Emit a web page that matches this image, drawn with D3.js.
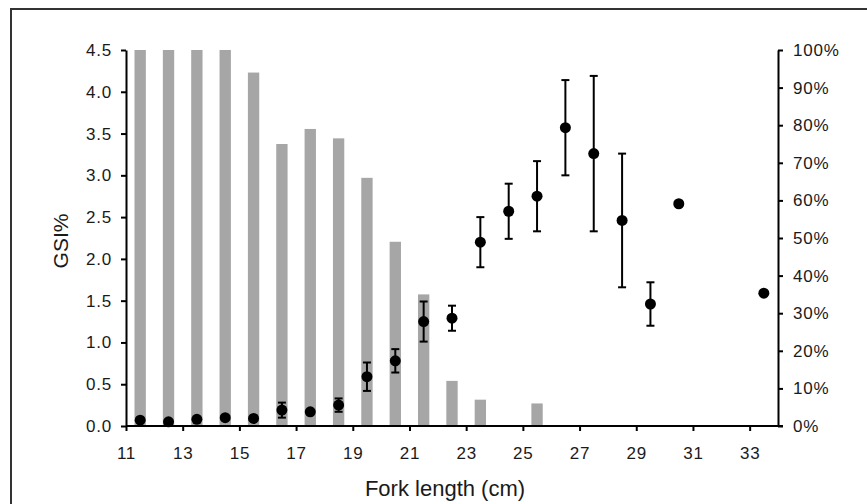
<!DOCTYPE html>
<html>
<head>
<meta charset="utf-8">
<script src="https://cdn.jsdelivr.net/npm/d3@7"></script>
<style>
    body { margin: 0; background: #fff; }
    #chart-outer { width: 867px; height: 504px; }
    text { font-family: "Liberation Sans", Arial, sans-serif; fill: #1a1a1a; }
</style>
</head>
<body>
<div id="chart-outer"></div>
<script>
// size classes (cm), bars = share of fish in class (right axis)
var barLengths = [11.5, 12.5, 13.5, 14.5, 15.5, 16.5, 17.5, 18.5, 19.5, 20.5, 21.5, 22.5, 23.5, 25.5];
var barShares = [100, 100, 100, 100, 94, 75, 79, 76.5, 66, 49, 35, 12, 7, 6];

// GSI means and error (left axis), 0 = no error bar
var gsiLengths = [11.5, 12.5, 13.5, 14.5, 15.5, 16.5, 17.5, 18.5, 19.5, 20.5, 21.5, 22.5, 23.5, 24.5, 25.5, 26.5, 27.5, 28.5, 29.5, 30.5, 33.5];
var gsiMeans = [0.07, 0.05, 0.08, 0.10, 0.09, 0.19, 0.17, 0.25, 0.59, 0.78, 1.25, 1.29, 2.20, 2.57, 2.75, 3.57, 3.26, 2.46, 1.46, 2.66, 1.59];
var gsiErrors = [0, 0, 0, 0, 0, 0.09, 0, 0.08, 0.17, 0.14, 0.24, 0.15, 0.30, 0.33, 0.42, 0.57, 0.93, 0.80, 0.26, 0, 0];

var xTicks = [11, 13, 15, 17, 19, 21, 23, 25, 27, 29, 31, 33];
var leftTicks = [0, 0.5, 1, 1.5, 2, 2.5, 3, 3.5, 4, 4.5];
var rightTicks = [0, 10, 20, 30, 40, 50, 60, 70, 80, 90, 100];

var svgWidth = 867;
var svgHeight = 504;
var plot = {left: 126, right: 778, top: 50, bottom: 426};

var chartSVG = d3.select("#chart-outer").append("svg")
    .attr("width", svgWidth)
    .attr("height", svgHeight);

// frame round the figure, open at right and bottom
chartSVG.append("rect")
    .attr("x", 11)
    .attr("y", 9)
    .attr("width", 900)
    .attr("height", 600)
    .attr("fill", "none")
    .attr("stroke", "#333")
    .attr("stroke-width", 2);

var xScale = d3.scaleLinear().domain([11, 34]).range([plot.left, plot.right]);
var yLeft = d3.scaleLinear().domain([0, 4.5]).range([plot.bottom, plot.top]);
var yRight = d3.scaleLinear().domain([0, 100]).range([plot.bottom, plot.top]);

var barWidth = xScale(11.4) - xScale(11);

// bars
chartSVG.append("g").selectAll("rect")
    .data(barLengths)
    .enter()
    .append("rect")
    .attr("x", function (d) { return xScale(d) - barWidth / 2; })
    .attr("y", function (d, i) { return yRight(barShares[i]); })
    .attr("width", barWidth)
    .attr("height", function (d, i) { return plot.bottom - yRight(barShares[i]); })
    .attr("fill", "#a6a6a6");

// axes
function styleAxis(g) {
    g.selectAll("path").attr("stroke", "#000").attr("stroke-width", 2);
    g.selectAll("line").attr("stroke", "#000").attr("stroke-width", 2);
    g.selectAll("text")
        .attr("font-size", 17)
        .attr("letter-spacing", 0.8)
        .attr("fill", "#1a1a1a");
}

chartSVG.append("g")
    .attr("transform", "translate(0," + plot.bottom + ")")
    .call(d3.axisBottom(xScale).tickValues(xTicks).tickSizeInner(5).tickSizeOuter(0).tickPadding(16))
    .call(styleAxis)
    .selectAll("path").attr("d", "M" + plot.left + ",0H" + (plot.right + 5));

chartSVG.append("g")
    .attr("transform", "translate(" + plot.left + ",0)")
    .call(d3.axisLeft(yLeft).tickValues(leftTicks).tickFormat(d3.format(".1f")).tickSizeInner(5).tickSizeOuter(0).tickPadding(9))
    .call(styleAxis);

chartSVG.append("g")
    .attr("transform", "translate(" + plot.right + ",0)")
    .call(d3.axisRight(yRight).tickValues(rightTicks).tickFormat(function (d) { return d + "%"; }).tickSizeInner(5).tickSizeOuter(0).tickPadding(10))
    .call(styleAxis);

// error bars
var errG = chartSVG.append("g")
    .attr("stroke", "#000")
    .attr("stroke-width", 2);

gsiLengths.forEach(function (len, i) {
    if (!gsiErrors[i]) return;
    var cx = xScale(len);
    var y1 = yLeft(gsiMeans[i] + gsiErrors[i]);
    var y2 = yLeft(gsiMeans[i] - gsiErrors[i]);
    errG.append("line").attr("x1", cx).attr("x2", cx).attr("y1", y1).attr("y2", y2);
    errG.append("line").attr("x1", cx - 4).attr("x2", cx + 4).attr("y1", y1).attr("y2", y1);
    errG.append("line").attr("x1", cx - 4).attr("x2", cx + 4).attr("y1", y2).attr("y2", y2);
});

// mean points
chartSVG.append("g").selectAll("circle")
    .data(gsiLengths)
    .enter()
    .append("circle")
    .attr("cx", function (d) { return xScale(d); })
    .attr("cy", function (d, i) { return yLeft(gsiMeans[i]); })
    .attr("r", 5.5)
    .attr("fill", "#000");

// axis titles
chartSVG.append("text")
    .attr("transform", "translate(68," + ((plot.top + plot.bottom) / 2 + 3) + ") rotate(-90)")
    .attr("text-anchor", "middle")
    .attr("font-size", 21)
    .text("GSI%");

chartSVG.append("text")
    .attr("x", 445)
    .attr("y", 496)
    .attr("text-anchor", "middle")
    .attr("font-size", 22)
    .text("Fork length (cm)");
</script>
</body>
</html>
